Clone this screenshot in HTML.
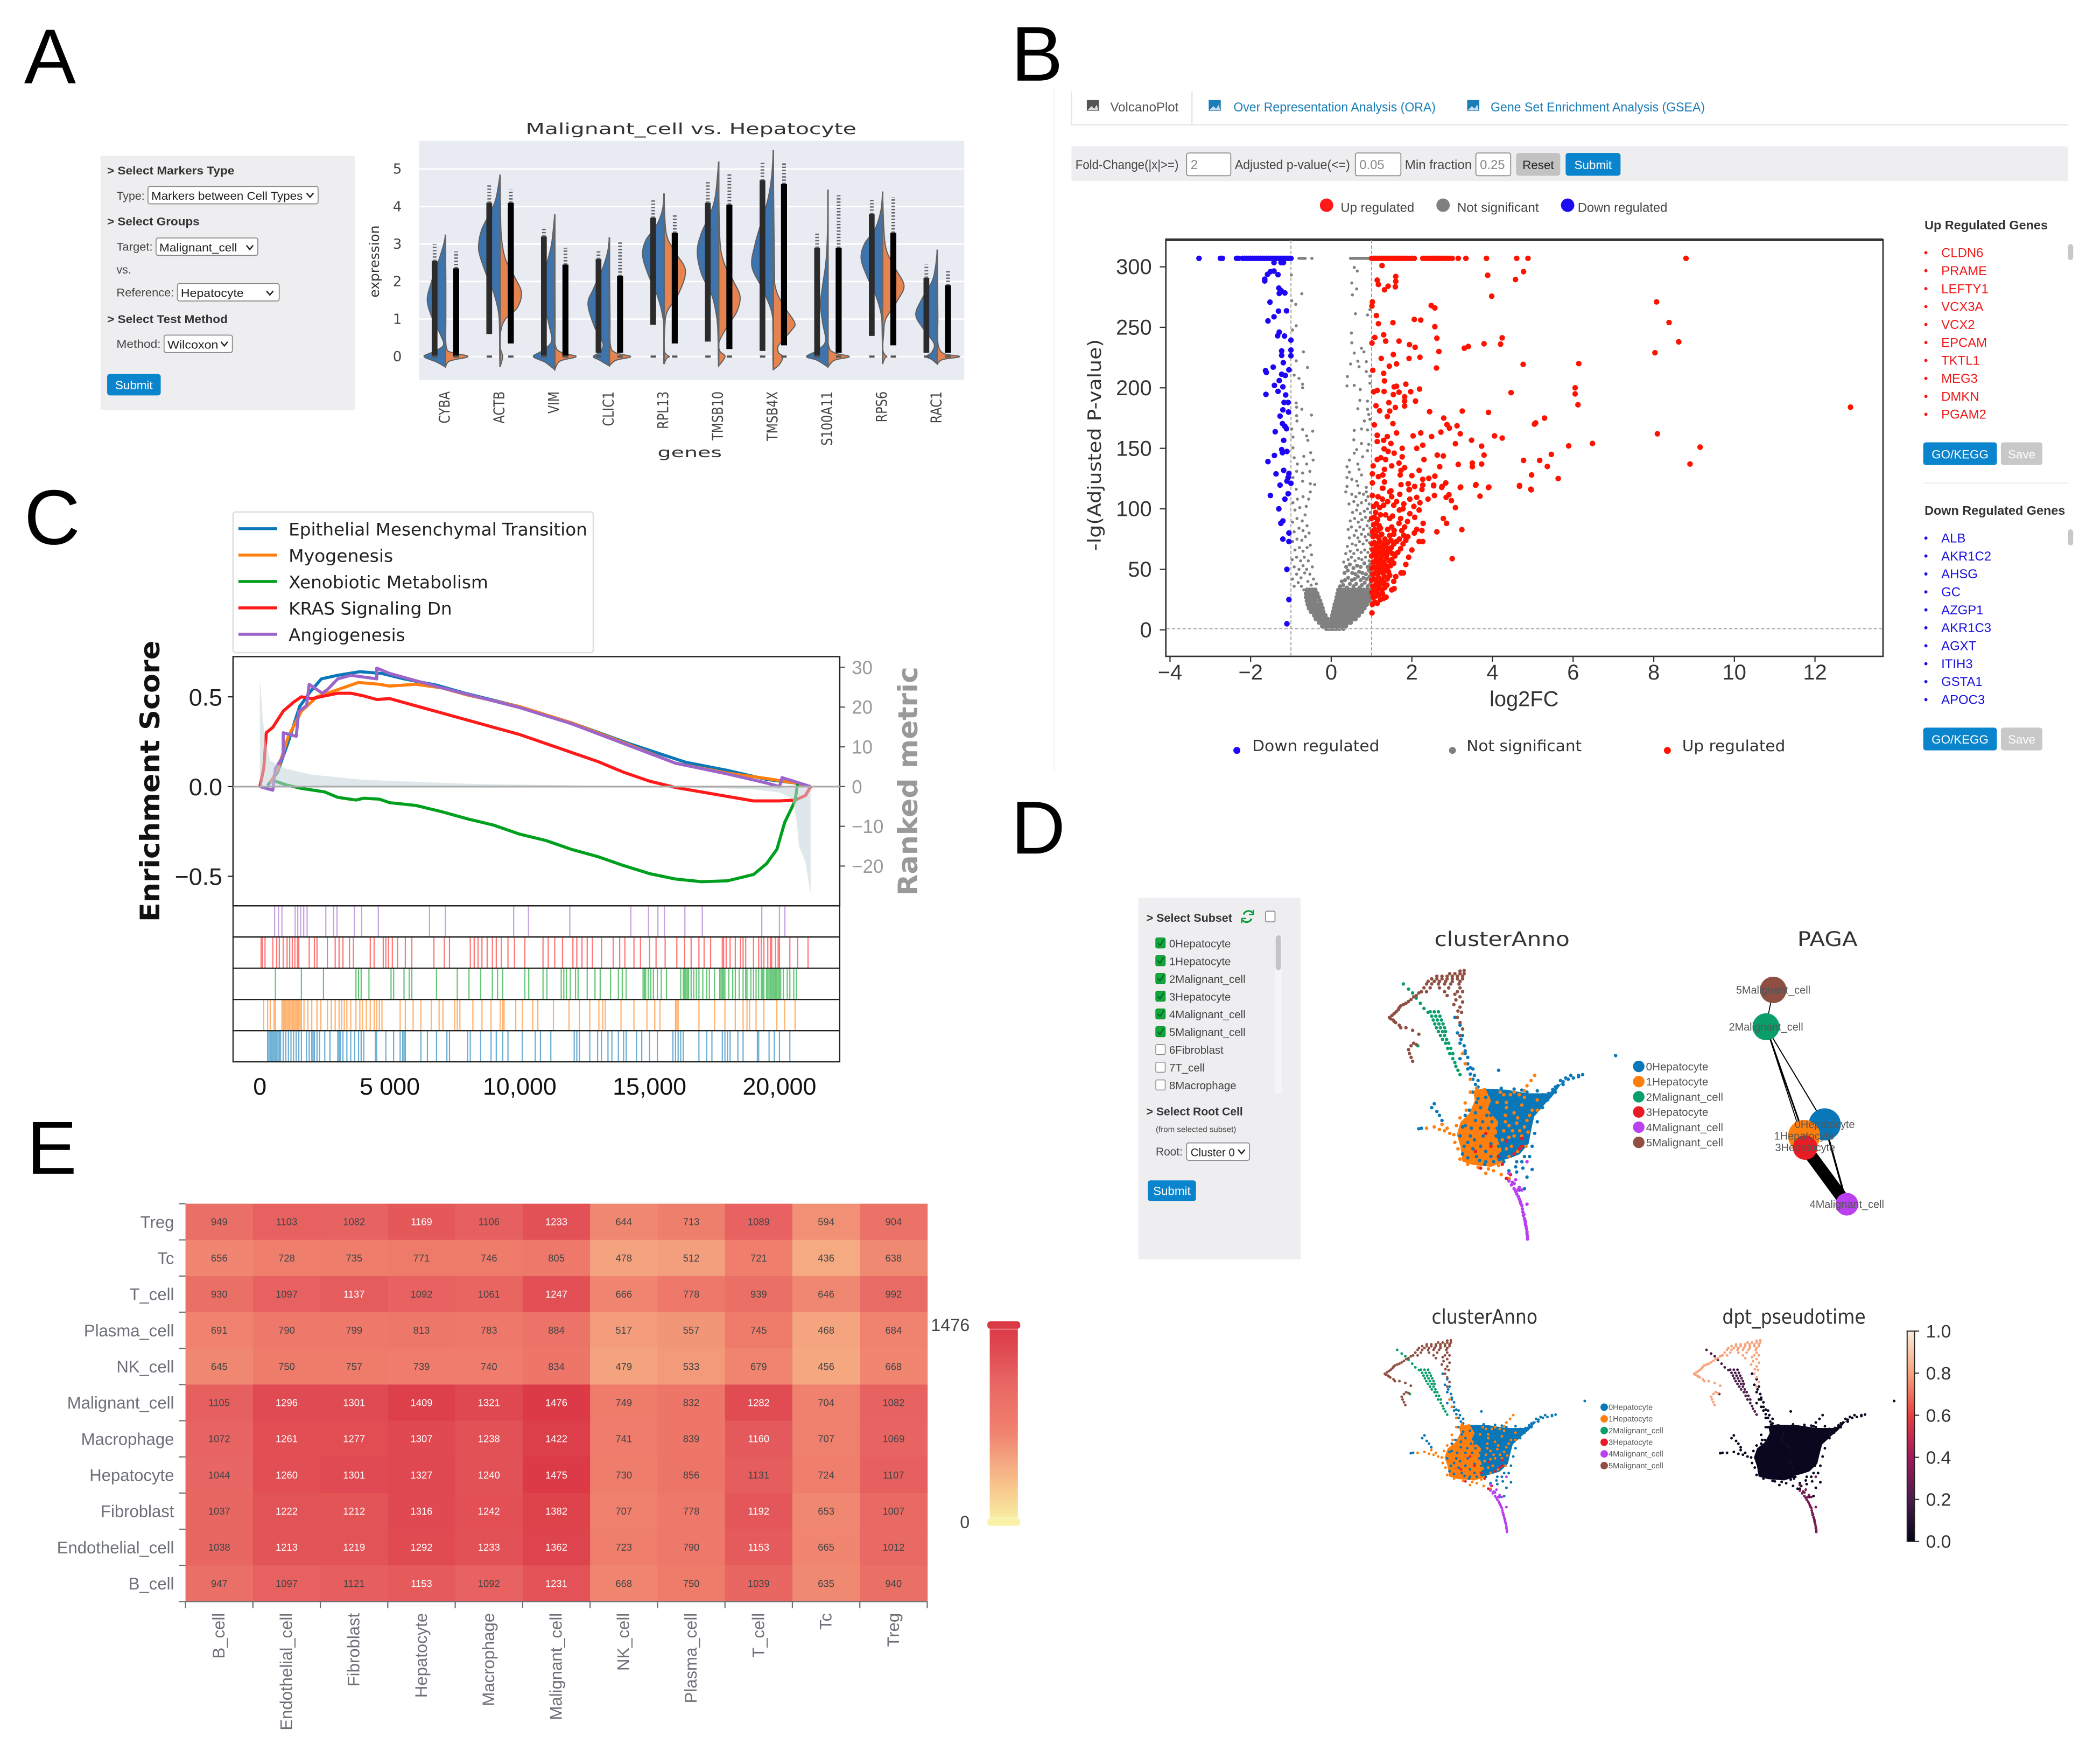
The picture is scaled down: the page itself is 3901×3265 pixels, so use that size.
<!DOCTYPE html>
<html lang="en">
<head>
<meta charset="utf-8">
<title>Single-cell analysis figure panels</title>
<style>
html,body{margin:0;padding:0;background:#fff;width:3901px;height:3265px;overflow:hidden}
svg{display:block}
text{font-family:"Liberation Sans",sans-serif;fill:#333}
.dj{font-family:"DejaVu Sans","Liberation Sans",sans-serif}
.hd{font-size:8.6px;font-weight:bold;fill:#333}
.ui{font-size:8.6px;fill:#444}
.sel{fill:#fff;stroke:#888;stroke-width:.7}
.btn{font-size:9px;fill:#fff}
.tab{font-size:9.6px;fill:#1b7db8}
.chev{fill:none;stroke:#222;stroke-width:1}
</style>
</head>
<body>
<svg id="figure" width="3901" height="3265" viewBox="0 0 1568 1312">
<rect width="1568" height="1312" fill="#fff"/>
<text x="18" y="62" font-size="58" style="fill:#000">A</text>
<text x="755" y="60" font-size="58" style="fill:#000">B</text>
<text x="18" y="406" font-size="58" style="fill:#000">C</text>
<text x="755" y="637" font-size="56" style="fill:#000">D</text>
<text x="20" y="876" font-size="56" style="fill:#000">E</text>

<g>
<rect x="75" y="116" width="190" height="190" fill="#eeeef0"/>
<text class="hd" x="80" y="130" textLength="95" lengthAdjust="spacingAndGlyphs">&gt; Select Markers Type</text>
<text class="ui" x="87" y="149" textLength="21" lengthAdjust="spacingAndGlyphs">Type:</text>
<g><rect class="sel" x="110.5" y="139" width="127" height="13" rx="1.5"/><text class="ui" x="113" y="149" textLength="113" lengthAdjust="spacingAndGlyphs" style="fill:#222">Markers between Cell Types</text><path class="chev" d="M229 144l2.5 3 2.5-3"/></g>
<text class="hd" x="80" y="168" textLength="69" lengthAdjust="spacingAndGlyphs">&gt; Select Groups</text>
<text class="ui" x="87" y="187" textLength="27" lengthAdjust="spacingAndGlyphs">Target:</text>
<g><rect class="sel" x="116.5" y="177.5" width="76" height="13" rx="1.5"/><text class="ui" x="119" y="187.5" textLength="58" lengthAdjust="spacingAndGlyphs" style="fill:#222">Malignant_cell</text><path class="chev" d="M184 183l2.5 3 2.5-3"/></g>
<text class="ui" x="87" y="204">vs.</text>
<text class="ui" x="87" y="221" textLength="43" lengthAdjust="spacingAndGlyphs">Reference:</text>
<g><rect class="sel" x="132.5" y="211.5" width="76" height="13" rx="1.5"/><text class="ui" x="135" y="221.5" textLength="47" lengthAdjust="spacingAndGlyphs" style="fill:#222">Hepatocyte</text><path class="chev" d="M199 217l2.5 3 2.5-3"/></g>
<text class="hd" x="80" y="241" textLength="90" lengthAdjust="spacingAndGlyphs">&gt; Select Test Method</text>
<text class="ui" x="87" y="259.5" textLength="33" lengthAdjust="spacingAndGlyphs">Method:</text>
<g><rect class="sel" x="122.5" y="250" width="51" height="13" rx="1.5"/><text class="ui" x="125" y="260" textLength="38" lengthAdjust="spacingAndGlyphs" style="fill:#222">Wilcoxon</text><path class="chev" d="M165 255l2.5 3 2.5-3"/></g>
<g><rect x="80" y="279" width="40" height="16" rx="2" fill="#0a84cc"/><text class="btn" x="100" y="290.5" text-anchor="middle">Submit</text></g>
</g>

<g id="violin-plot"></g>

<g>
<path d="M787 65V575" stroke="#f4f4f4" stroke-width="1"/>
<path d="M800 68V93H890V68M890 93H1544" fill="none" stroke="#e6e6e6" stroke-width="1"/>
<g><rect x="811.5" y="74.5" width="9" height="8" fill="#555"/><path d="M812 82l3-3 2 2 2-3 1 4z" fill="#ddd"/><text class="tab" x="829" y="83" textLength="51" lengthAdjust="spacingAndGlyphs" style="fill:#555">VolcanoPlot</text></g>
<g><rect x="902.5" y="74.5" width="9" height="8" fill="#1b7db8"/><path d="M903 82l3-3 2 2 2-3 1 4z" fill="#cde"/><text class="tab" x="921" y="83" textLength="151" lengthAdjust="spacingAndGlyphs">Over Representation Analysis (ORA)</text></g>
<g><rect x="1095.5" y="74.5" width="9" height="8" fill="#1b7db8"/><path d="M1096 82l3-3 2 2 2-3 1 4z" fill="#cde"/><text class="tab" x="1113" y="83" textLength="160" lengthAdjust="spacingAndGlyphs">Gene Set Enrichment Analysis (GSEA)</text></g>
<rect x="800" y="109" width="744" height="26" fill="#eeeef0"/>
<text class="ui" x="803" y="126" textLength="77" lengthAdjust="spacingAndGlyphs" style="font-size:9.6px">Fold-Change(|x|&gt;=)</text>
<g><rect class="sel" x="886" y="114" width="33" height="17" rx="1.5"/><text class="ui" x="889" y="126" style="fill:#888;font-size:9.6px">2</text></g>
<text class="ui" x="922" y="126" textLength="86" lengthAdjust="spacingAndGlyphs" style="font-size:9.6px">Adjusted p-value(&lt;=)</text>
<g><rect class="sel" x="1012" y="114" width="34" height="17" rx="1.5"/><text class="ui" x="1015" y="126" style="fill:#888;font-size:9.6px">0.05</text></g>
<text class="ui" x="1049" y="126" textLength="50" lengthAdjust="spacingAndGlyphs" style="font-size:9.6px">Min fraction</text>
<g><rect class="sel" x="1102" y="114" width="26" height="17" rx="1.5"/><text class="ui" x="1105" y="126" style="fill:#888;font-size:9.6px">0.25</text></g>
<g><rect x="1132" y="114" width="33" height="17" rx="2" fill="#c2c2c2"/><text class="btn" x="1148.5" y="126" text-anchor="middle" style="fill:#222">Reset</text></g>
<g><rect x="1169" y="114" width="41" height="17" rx="2" fill="#0a84cc"/><text class="btn" x="1189.5" y="126" text-anchor="middle">Submit</text></g>
<g>
<circle cx="990.5" cy="153" r="5" fill="#ff1a1a"/><text class="ui" x="1001" y="158" textLength="55" lengthAdjust="spacingAndGlyphs" style="font-size:9.6px">Up regulated</text>
<circle cx="1077.5" cy="153" r="5" fill="#808080"/><text class="ui" x="1088" y="158" textLength="61" lengthAdjust="spacingAndGlyphs" style="font-size:9.6px">Not significant</text>
<circle cx="1170.5" cy="153" r="5" fill="#1a0df0"/><text class="ui" x="1178" y="158" textLength="67" lengthAdjust="spacingAndGlyphs" style="font-size:9.6px">Down regulated</text>
</g>
<text class="hd" x="1437" y="171" textLength="92" lengthAdjust="spacingAndGlyphs" style="font-size:9.2px">Up Regulated Genes</text>
<text class="hd" x="1437" y="384" textLength="105" lengthAdjust="spacingAndGlyphs" style="font-size:9.2px">Down Regulated Genes</text>
<g><rect x="1544" y="182" width="4" height="12" rx="2" fill="#c8c8c8"/></g>
<g><rect x="1544" y="395" width="4" height="12" rx="2" fill="#c8c8c8"/></g>
<g><rect x="1436" y="330" width="55" height="17" rx="2" fill="#0a84cc"/><text class="btn" x="1463.5" y="342" text-anchor="middle">GO/KEGG</text></g>
<g><rect x="1494" y="330" width="31" height="17" rx="2" fill="#c8c8c8"/><text class="btn" x="1509.5" y="342" text-anchor="middle">Save</text></g>
<path d="M1436 360.5H1544" stroke="#eee" stroke-width="1"/>
<g><rect x="1436" y="543" width="55" height="17" rx="2" fill="#0a84cc"/><text class="btn" x="1463.5" y="555" text-anchor="middle">GO/KEGG</text></g>
<g><rect x="1494" y="543" width="31" height="17" rx="2" fill="#c8c8c8"/><text class="btn" x="1509.5" y="555" text-anchor="middle">Save</text></g>
</g>
<g id="gene-lists"></g>
<g id="volcano-plot"></g>
<g id="gsea-plot"></g>
<g id="heatmap"></g>

<g>
<rect x="850" y="670" width="121" height="270" fill="#eeeef0"/>
<text class="hd" x="856" y="688" textLength="64" lengthAdjust="spacingAndGlyphs">&gt; Select Subset</text>
<g><path d="M935.5 681.5a4 4 0 0 0-7 1M927.5 686.5a4 4 0 0 0 7-1" fill="none" stroke="#0a9a3a" stroke-width="1.3"/><path d="M935.8 679v3.5h-3.3M927.2 689v-3.5h3.3" fill="none" stroke="#0a9a3a" stroke-width=".9"/></g>
<rect class="sel" x="945" y="680" width="7" height="8" rx="1"/>
<rect x="952" y="698" width="5" height="118" fill="#f5f5f5"/>
<rect x="952.5" y="698" width="4" height="26" rx="2" fill="#c4c4c4"/>
<text class="hd" x="856" y="832.5" textLength="72" lengthAdjust="spacingAndGlyphs">&gt; Select Root Cell</text>
<text class="ui" x="863" y="845" textLength="60" lengthAdjust="spacingAndGlyphs" style="font-size:6px">(from selected subset)</text>
<text class="ui" x="863" y="862.5" textLength="20" lengthAdjust="spacingAndGlyphs">Root:</text>
<g><rect class="sel" x="886" y="853" width="47" height="13" rx="1.5"/><text class="ui" x="889" y="863" textLength="33" lengthAdjust="spacingAndGlyphs" style="fill:#222">Cluster 0</text><path class="chev" d="M924.5 858l2.5 3 2.5-3"/></g>
<g><rect x="857" y="881" width="36" height="15.5" rx="2" fill="#0a84cc"/><text class="btn" x="875" y="892" text-anchor="middle">Submit</text></g>
</g>
<g id="subset-list"></g>
<g id="umap-plots"></g>
<g id="paga-plot"></g>
</svg>

<script>
/* ---------- violin data: [expression, density 0-100] ---------- */
const violinGenes = ['CYBA','ACTB','VIM','CLIC1','RPL13','TMSB10','TMSB4X','S100A11','RPS6','RAC1'];
const violinTicks = [0,1,2,3,4,5];
const targetDensity = [
 [[-.28,0],[-.15,40],[0,100],[.12,60],[.3,10],[.6,25],[1,60],[1.5,85],[2,65],[2.5,35],[3,8],[3.25,0]],
 [[-.28,0],[0,2],[.8,3],[1.2,8],[1.7,30],[2.2,65],[2.7,95],[3,100],[3.4,85],[3.8,50],[4.2,20],[4.85,0]],
 [[-.35,0],[-.15,45],[0,100],[.15,60],[.4,15],[.8,25],[1.3,45],[1.8,55],[2.4,40],[3,15],[3.79,0]],
 [[-.25,0],[-.1,45],[0,75],[.12,45],[.35,30],[.8,70],[1.4,100],[1.8,75],[2.3,35],[2.8,8],[3.18,0]],
 [[-.2,0],[.5,1],[1,4],[1.6,30],[2.2,75],[2.7,100],[3.1,85],[3.5,35],[3.9,8],[4.35,0]],
 [[-.25,0],[0,2],[.5,3],[1,8],[1.6,30],[2.2,80],[2.8,100],[3.3,80],[3.8,40],[4.3,15],[5.2,0]],
 [[-.35,0],[0,2],[.7,2],[1.2,8],[1.8,50],[2.4,100],[3,85],[3.6,55],[4.2,25],[4.8,8],[5.5,0]],
 [[-.28,0],[-.1,50],[0,100],[.15,55],[.4,12],[.9,25],[1.4,35],[1.9,25],[2.5,10],[3.2,3],[4.45,0]],
 [[-.2,0],[0,1],[.6,2],[1.1,6],[1.6,30],[2.1,70],[2.6,100],[3,85],[3.4,35],[3.9,8],[4.4,0]],
 [[-.2,0],[-.08,25],[0,50],[.12,25],[.35,15],[.7,60],[1.1,100],[1.5,75],[2,25],[2.4,8],[2.85,0]]
];
const referenceDensity = [
 [[-.28,0],[-.12,20],[0,105],[.1,35],[.25,4],[1,2],[2,2],[3.25,0]],
 [[-.28,0],[0,12],[.25,1],[.7,4],[1,25],[1.3,80],[1.7,100],[2.1,70],[2.6,25],[3.2,6],[4,2],[4.85,0]],
 [[-.35,0],[-.12,25],[0,100],[.1,35],[.3,3],[1,2],[3.79,0]],
 [[-.25,0],[-.1,30],[0,100],[.1,30],[.3,5],[1,3],[3.18,0]],
 [[-.2,0],[-.05,12],[0,25],[.05,12],[.2,1],[.8,4],[1.2,15],[1.7,70],[2.3,100],[2.8,50],[3.3,10],[4.35,0]],
 [[-.25,0],[0,30],[.15,5],[.4,3],[.8,40],[1.2,85],[1.6,100],[2,70],[2.5,25],[3.2,5],[5.2,0]],
 [[-.35,0],[-.2,30],[0,45],[.1,25],[.3,25],[.7,85],[.9,100],[1.3,55],[1.8,12],[2.5,5],[5.5,0]],
 [[-.28,0],[-.1,30],[0,100],[.1,30],[.3,3],[1,1],[4.45,0]],
 [[-.2,0],[-.05,10],[0,20],[.05,10],[.2,1],[.6,5],[1,15],[1.5,70],[1.9,100],[2.4,55],[3,12],[4.4,0]],
 [[-.2,0],[-.08,25],[0,105],[.08,30],[.3,5],[.7,2],[1.1,3],[2.85,0]]
];
const targetStripLow  = [0,.6,0,.1,.85,.4,.15,0,.55,.1];
const targetStripHigh = [2.55,4.1,3.2,2.6,3.7,4.1,4.7,2.9,3.8,2.1];
const targetStripMax  = [3,4.6,3.45,2.85,4.2,4.7,5.2,3.3,4.2,2.45];
const referenceStripLow  = [0,.35,0,.1,.35,.2,.3,.1,.3,.1];
const referenceStripHigh = [2.35,4.1,2.45,2.15,3.3,4.05,4.6,2.9,3.3,1.9];
const referenceStripMax  = [2.8,4.45,2.9,3.05,3.8,4.9,5.2,4.3,4.25,2.3];

/* ---------- volcano data: [log2FC, -lg(adj P)] ---------- */
const volcanoXTicks = [-4,-2,0,2,4,6,8,10,12];
const volcanoYTicks = [0,50,100,150,200,250,300];
const saturatedDown = [-3.28,-2.75,-2.7,-2.35,-2.3,-2.2,-2.15,-2.1,-2.05,-2,-1.95,-1.9,-1.85,-1.8,-1.75,-1.7,-1.65,-1.6,-1.55,-1.5,-1.45,-1.4,-1.35,-1.3,-1.25,-1.2,-1.15,-1.1,-1.05,-1];
const saturatedFlat = [-.8,-.75,-.7,-.65,-.48,.48,.52,.56,.6,.64,.68,.72,.76,.8,.84,.88,.92,.96];
const saturatedUp = [1,1.05,1.1,1.15,1.2,1.25,1.3,1.35,1.4,1.45,1.5,1.55,1.6,1.65,1.7,1.76,1.82,1.88,1.94,2,2.06,2.27,2.33,2.39,2.45,2.51,2.57,2.63,2.69,2.75,2.81,2.87,2.93,3,3.15,3.34,3.85,4.6,4.88,8.8];
const downPoints = [[-1.42,303.5],[-1.245,303.5],[-1.185,303.5],[-1.42,296.5],[-1.51,296],[-1.58,293.8],[-1.32,293.5],[-1.65,288.3],[-1.65,289.8],[-1.3,282.4],[-1.24,280.2],[-1.15,278.4],[-1.29,278],[-1.52,270.8],[-1.31,263.4],[-1.11,263.6],[-1.42,258.7],[-1.57,255.3],[-1.29,246],[-1.33,243],[-1.16,242.8],[-1,239.4],[-1.23,230.5],[-1.23,226.8],[-1,231.2],[-1,226.5],[-1.19,220.8],[-1.44,217.1],[-1.63,214.2],[-1.61,212.7],[-1.05,214.9],[-1.23,211.2],[-1.14,210.2],[-1.29,206],[-1.41,202],[-1.2,200.8],[-1.32,197.1],[-1.62,194.6],[-1.13,194.1],[-1.17,187.9],[-1.07,187.9],[-1.2,181.8],[-1.06,180],[-1.27,176.6],[-1.21,170.4],[-1.15,168.2],[-1.11,166.2],[-1.39,163.7],[-1.18,156.6],[-1.23,148.9],[-1.21,146.4],[-1.1,147.4],[-1.41,144.1],[-1.57,139],[-1.18,131.8],[-1.37,128.9],[-1.05,129.1],[-1.07,125.9],[-1.1,122.9],[-1,121.1],[-1.27,119.6],[-1.51,111],[-1.07,112.5],[-1.3,100],[-1.15,108],[-1.2,90],[-1.25,88],[-1.05,80],[-1.2,75],[-1.05,73],[-1.1,50],[-1.05,25],[-1.1,5]];
const upPoints = [[1.26,301],[4.77,296],[3.88,293],[4.57,289.5],[1.6,292],[1.14,289],[1.17,285.4],[1.32,281],[1.41,284],[1.59,283.5],[1.6,288],[3.98,275.7],[1.02,271],[1.01,267.6],[2.48,268],[2.57,266],[1.12,259.7],[1.17,253],[1.53,253.8],[2.06,256.5],[2.22,256],[2.57,250.5],[1.3,243.8],[1.08,241.6],[1.01,237],[1.35,238.6],[1.68,238.6],[1.94,235.7],[2.08,233.5],[2.62,241],[2.67,230],[3.3,232.7],[3.4,234.2],[3.79,236.4],[4.2,236.1],[4.24,241.3],[1.54,227.5],[1.24,224.3],[1.93,224.3],[2.2,225.3],[4.76,219.4],[2.61,216.4],[1.62,219.8],[1.44,217.9],[1.03,214.5],[1.3,212],[1.32,205.7],[1.85,203],[1.56,200.8],[1.62,201.3],[2.19,199],[4.46,196],[1.05,196.7],[1.14,197.8],[1.31,197],[1.68,196.4],[1.97,196.8],[1.54,194.4],[1.82,192.6],[1.82,189],[1.82,185],[2.09,189],[1.43,187.8],[1.11,185.2],[1.59,183.8],[1.2,181],[1.45,180.8],[2.44,180.3],[3.25,180.8],[3.9,179.7],[1.39,176.3],[2.79,175],[1.07,169.4],[1.53,170.4],[2.87,169.6],[2.93,166.7],[3.12,168.6],[3.2,162],[2.22,162.7],[2.03,160.3],[2.49,159.7],[2.72,163.4],[1.62,162.7],[1.14,160.8],[1.39,159.7],[1.3,156.6],[1.14,155.6],[1.48,154],[4.05,160.3],[4.24,158.5],[3.48,156.7],[3.08,153.8],[3.73,151.8],[2.27,152.6],[2.12,150],[1.76,150],[1.31,149.6],[1.41,147.4],[1.56,146],[1.76,143],[1.23,142.2],[1.35,140.7],[1.14,140.7],[2.3,140.7],[2.63,144.4],[2.78,143.7],[3.79,144.4],[4.77,140],[3.15,136.7],[3.5,137.8],[3.5,134.8],[3.73,137],[2.69,134.8],[1.68,137.8],[1.04,135.5],[1.5,135.5],[1.82,134],[1.32,132.6],[1.73,131.8],[1.02,128.9],[2.18,131.8],[1.71,128],[1.28,128],[1.17,126.6],[2,127.4],[2.27,124.4],[2.42,125.2],[2.57,127],[1.32,122.2],[1.02,121.4],[1.73,120],[1.91,120.7],[2.84,121.4],[2.54,119.6],[2.75,118.5],[2.07,118.5],[2.27,119.6],[3.21,118],[3.59,120],[3.91,118],[4.67,119.2],[4.95,116.2],[4.97,128],[5.04,170],[1.28,117],[1.48,114.8],[1.93,115.8],
 [8.07,271],[8.38,254],[8.62,238],[8.03,229],[6.14,220],[6.05,200],[6.05,195],[6.12,186],[12.88,184],[5.29,175],[5.07,171],[8.09,162],[6.48,154],[5.89,152],[9.15,151],[5.46,145],[5.17,140],[8.9,137],[5.36,135],[5.63,125],
 [1.01,14],[3,58.8],[3.24,82.8],[3.08,101],[4.96,115.7],[3.2,117.6],[3.9,117.6],[4.67,118.7],[3.69,110.5],[3.58,119.5],
 [1.02,21],[1.08,23],[1.14,22],[1.22,25],[1.3,26],[1.04,27],[1.11,28],[1.18,29],[1.27,30],[1.36,27],
 [1.01,31],[1.07,33],[1.13,32],[1.2,34],[1.26,33],[1.33,35],[1.03,36],[1.1,37],[1.16,36],[1.23,38],[1.3,39],[1.38,37],[1.5,33],[1.56,34],
 [1,41],[1.06,42],[1.12,40],[1.18,43],[1.25,41],[1.32,44],[1.39,42],[1.45,45],[1.03,46],[1.09,47],[1.15,46],[1.21,48],[1.28,47],[1.35,49],[1.42,48],[1.6,44],[1.55,40],[1.73,47],[1.79,47],[1.85,54],
 [1.01,51],[1.07,52],[1.13,50],[1.2,53],[1.26,51],[1.33,54],[1.4,52],[1.47,53],[1.04,56],[1.1,57],[1.17,55],[1.23,58],[1.3,56],[1.37,59],[1.44,57],[1.5,58],[1.55,55],[1.92,60],
 [1,61],[1.06,62],[1.12,60],[1.19,63],[1.25,61],[1.32,64],[1.38,62],[1.45,65],[1.52,63],[1.58,61],[1.03,66],[1.09,67],[1.15,65],[1.22,68],[1.28,66],[1.35,69],[1.42,67],[1.49,68],[1.65,64],[1.72,67],[2,66],
 [1.01,71],[1.07,72],[1.13,70],[1.2,73],[1.27,71],[1.33,75],[1.4,72],[1.48,74],[1.55,71],[1.62,73],[1.69,75],[1.78,71],[1.85,74],[1.04,77],[1.11,78],[1.18,76],[1.25,79],[1.45,78],[1.55,79],[1.8,78],[2.18,73],[2.27,73],[1.9,77],
 [1.02,81],[1.08,83],[1.15,82],[1.22,84],[1.05,87],[1.12,88],[1.19,86],[1.4,83],[1.5,85],[1.56,82],[1.75,82],[1.82,85],[1.68,88],[1.89,89.5],[2.06,80],[2.12,83],[2.25,82],[2.28,88],[2.62,81],
 [1,92],[1.07,93],[1.15,91],[1.22,95],[1.1,97],[1.45,92],[1.52,94],[1.35,95],[1.72,92],[2.07,93],[1.95,96],[2.18,99],[1.69,99],[1.78,100],[2.78,92],[2.86,88],
 [1.05,102],[1.12,104],[1.2,101],[1.3,103],[1.4,106],[1.55,103],[1.62,106],[1.8,104],[2.05,102],[1.16,110],[1.27,108],[1.5,110],[1.95,108],[2.12,109.5],[2.4,108],[2.56,111],[2.85,109.5],[2.92,111.7],[2.98,106.8],[1.02,111],[1.7,112],[2.2,105],[1.45,114],[1.94,116],[2.25,116],[2.54,119],[2.74,117.7],[1.27,117]];
const flatRowLevels = [1,3,6,9,12,15,18,21,24,27,30,33];
const flatRowFoldChanges = [
 [-.12,-.06,0,.06,.12,.2,.3],
 [-.22,-.15,-.08,0,.08,.15,.25,.3,.36],
 [-.3,-.23,-.16,-.08,0,.07,.14,.21,.28,.35,.42,.48],
 [-.38,-.31,-.24,-.17,-.1,0,.07,.14,.21,.28,.35,.42,.48,.55,.6],
 [-.42,-.35,-.28,-.21,-.15,.03,.1,.17,.24,.31,.38,.45,.55,.62,.68],
 [-.5,-.43,-.36,-.29,-.2,.05,.12,.19,.26,.33,.4,.47,.54,.62,.7,.76],
 [-.55,-.48,-.41,-.34,-.27,-.22,.07,.14,.21,.28,.35,.42,.49,.56,.63,.68,.75,.82],
 [-.58,-.51,-.44,-.37,-.3,-.25,.09,.16,.23,.3,.37,.44,.51,.58,.65,.74,.8,.88],
 [-.6,-.53,-.46,-.39,-.28,.12,.19,.26,.33,.4,.47,.54,.61,.68,.75,.8,.87,.94],
 [-.62,-.55,-.48,-.41,-.32,.14,.21,.28,.35,.42,.49,.56,.63,.7,.77,.85,.92,.98],
 [-.62,-.55,-.48,-.41,-.35,.16,.23,.3,.37,.44,.51,.58,.65,.72,.79,.86,.92,.99],
 [-.6,-.54,-.47,-.4,.18,.25,.32,.39,.46,.53,.6,.67,.74,.81,.88,.95]
];
const flatDense = [[.22,36],[.3,37],[.39,35],[.46,38],[.55,36],[.62,38],[.7,35],[.76,37],[.83,39],[.9,36],[.97,38],[.26,40],[.34,41],[.42,43],[.51,41],[.58,42],[.66,44],[.73,41],[.8,43],[.88,42],[.95,44],[.33,47],[.41,49],[.52,47],[.6,46],[.69,48],[.77,47],[.86,46],[.93,49],[.98,47],[.37,52],[.46,54],[.55,51],[.64,53],[.73,52],[.82,55],[.9,52],[.97,54]];
const flatPoints = [[.57,299.5],[.645,296.5],[-.99,293.2],[.51,286.6],[.63,281.7],[.525,276.8],[-.73,277.7],[-.98,272],[-.88,269],[.96,264.6],[.6,261.2],[.9,260.2],[-.87,251.3],[-.96,247.8],[.5,245.3],[.51,237.2],[.75,232.7],[.81,229.7],[.57,228.7],[-.69,229.7],[-.87,222.3],[.66,222],[.87,221.6],[.48,219.7],[.69,217.4],[-.59,216.8],[.87,213.4],[-1,214.5],[-.92,210.5],[-.8,207.8],[.96,209.7],[.4,209.3],[.39,201.6],[.57,202],[.72,198.6],[.96,203.8],[-.71,203],[-.71,200],[.71,189.7],[.9,189],[-.87,187.5],[-.86,184],[-.73,182.3],[.66,182.7],[.9,182.3],[-.86,177],[-.49,177.5],[.93,178],[-.85,172.6],[.96,174],[.82,172.6],[-.71,165.6],[-.46,164.2],[-.98,166],[.57,164.8],[.75,166],[.9,165.2],[-.95,159.3],[-.61,160.3],[-.58,156.6],[.56,157],[.75,154],[.93,153.3],[-.95,150.4],[.63,148.9],[.9,148.1],[-.51,146.4],[.57,146],[-.92,142.2],[-.68,143.4],[-.45,140.3],[.78,143],[.45,140.3],[-.84,137],[-.61,137],[.39,134.8],[.66,137],[-.86,131],[-.71,129.6],[-.53,131],[.45,130.3],[.69,132.6],[.75,128],[.39,125.9],[.51,124.4],[.63,122.9],[-.71,122.9],[-.95,125.9],[-.52,120.7],[-.41,120],[.39,118.5],[.66,119.2],[.87,117.7],[-.87,116.2],[-.52,114],[.36,114],[.87,114],
 [.31,56],[.42,58],[.5,60],[.59,57],[.68,59],[.76,58],[.85,60],[.94,57],[.99,60],[.36,63],[.47,65],[.56,63],[.65,66],[.74,64],[.83,66],[.91,64],[.97,67],[.4,69],[.52,71],[.61,70],[.7,73],[.79,71],[.88,74],[.95,72],[.45,76],[.57,78],[.66,76],[.75,79],[.84,77],[.92,79],[.98,78],[.42,83],[.5,85],[.62,82],[.71,85],[.8,83],[.89,86],[.96,84],[.47,90],[.58,92],[.67,89],[.76,91],[.85,93],[.93,90],[.99,92],[.53,97],[.63,99],[.72,96],[.82,98],[.9,100],[.97,97],[.44,104],[.56,106],[.66,103],[.75,105],[.86,107],[.94,104],[.51,112],[.61,110],[.7,113],[.8,112],[.91,110],
 [-.92,36],[-.82,39],[-.74,36],[-.68,33],[-.96,42],[-.86,46],[-.75,43],[-.66,47],[-.58,40],[-.5,37],[-.44,42],[-.37,38],[-.92,52],[-.8,50],[-.7,53],[-.61,50],[-.53,46],[-.47,52],[-.97,58],[-.86,60],[-.76,57],[-.67,60],[-.57,57],[-.49,62],[-.9,66],[-.79,68],[-.7,65],[-.6,68],[-.52,70],[-.96,73],[-.85,75],[-.73,74],[-.64,77],[-.55,80],[-.92,81],[-.8,84],[-.7,82],[-.6,86],[-.96,89],[-.85,92],[-.72,90],[-.65,95],[-.9,99],[-.78,101],[-.62,102],[-.95,105],[-.84,108],[-.7,110],[-.56,108]];

/* ---------- GSEA data ---------- */
const gseaRankTicks = [0,5000,10000,15000,20000];
const gseaRankLabels = ['0','5 000','10,000','15,000','20,000'];
const esTicks = [-.5,0,.5];
const esTickLabels = ['\u22120.5','0.0','0.5'];
const metricTicks = [-20,-10,0,10,20,30];
const metricTickLabels = ['\u221220','\u221210','0','10','20','30'];
const setNames = ['Epithelial Mesenchymal Transition','Myogenesis','Xenobiotic Metabolism','KRAS Signaling Dn','Angiogenesis'];
const esEmt = [[300,.006],[680,.08],[1100,.25],[1530,.445],[1950,.53],[2370,.6],[3000,.62],[3860,.64],[4700,.63],[5550,.6],[6800,.565],[7900,.52],[10000,.445],[12100,.35],[14200,.24],[16400,.135],[18000,.09],[19500,.04],[20600,.02],[21200,0]];
const esMyo = [[400,.02],[700,.1],[1100,.28],[1600,.42],[2200,.5],[3000,.54],[3800,.58],[4600,.57],[5000,.56],[6000,.57],[7000,.55],[8000,.51],[10000,.445],[12000,.355],[14000,.245],[16000,.13],[18000,.075],[19500,.045],[20600,.02],[21200,0]];
const esXeno = [[600,.03],[1000,.01],[1600,-.01],[2500,-.03],[3000,-.06],[3700,-.075],[4000,-.065],[4600,-.07],[5000,-.09],[6000,-.105],[7000,-.14],[8000,-.18],[9000,-.215],[10000,-.265],[11000,-.3],[12000,-.35],[13000,-.39],[14000,-.44],[15000,-.485],[16000,-.515],[17000,-.53],[18000,-.525],[19000,-.49],[19500,-.43],[19900,-.35],[20200,-.2],[20600,-.08],[20700,.02]];
const esKras = [[0,0],[150,.1],[250,.3],[500,.33],[900,.42],[1300,.47],[1600,.5],[2000,.49],[2500,.505],[3000,.52],[3500,.52],[4000,.505],[4500,.485],[5000,.49],[6000,.45],[7000,.41],[8000,.37],[9000,.33],[10000,.29],[11000,.24],[12000,.19],[13000,.14],[14000,.08],[15000,.03],[16000,-.005],[17000,-.03],[18000,-.055],[19000,-.08],[20000,-.08],[20600,-.075],[21000,-.05],[21200,0]];
const esAngio = [[0,0],[500,-.02],[600,.1],[900,.17],[900,.3],[1400,.28],[1500,.42],[1800,.45],[1900,.57],[2400,.52],[2600,.54],[3000,.6],[3500,.62],[4500,.6],[4500,.66],[5000,.63],[7000,.55],[10000,.44],[12000,.35],[14000,.24],[16000,.13],[18000,.07],[19500,.02],[20000,0],[20100,.05],[21200,0]];
const rankMetric = [[0,27],[50,23],[100,18],[200,12],[400,6.5],[1000,4.5],[2000,3],[4000,1.7],[8000,.7],[12000,.3],[15000,0],[17000,-.3],[19000,-.7],[20000,-1.5],[20500,-3],[20650,-8],[20750,-15],[21000,-19],[21200,-27],[21200,0],[0,0]];
const hitsAngio = [570,720,850,1360,1460,1570,1690,1820,2540,2840,2970,3640,3920,4560,6530,7140,9770,10340,11930,14280,14960,15320,15570,16360,17030,19320,20000,20210];
const hitsKras = [50,100,200,500,650,750,900,1050,1150,1250,1350,1450,1500,1900,2100,2200,2600,2900,3050,3200,3450,3600,4250,4400,4750,4850,4950,5100,5300,5600,5850,6700,7100,7300,8100,8250,8400,8550,8750,8950,9100,9300,9550,9800,10200,10900,11100,11350,11650,12050,12200,12400,12600,12800,13150,13600,13850,14050,14400,14650,15000,15250,15600,16050,16350,16600,16900,17100,17350,17800,17850,17950,18100,18300,18500,18600,18700,19000,19200,19300,19400,19550,19650,19700,19850,19950,20000,20400,20700,21100];
const hitsXeno = [600,1600,2450,3700,3800,3900,4200,5050,5150,5550,5750,5850,6800,7600,8050,8500,8950,9150,9350,10200,10350,10900,11050,11600,11700,11800,11950,12150,12250,12600,12900,13100,13500,13800,13950,14100,14750,14800,14850,14950,15050,15150,15300,15450,15650,16200,16300,16350,16400,16450,16500,16600,16700,16800,16900,17050,17200,17300,17500,17700,17750,17800,17850,17900,18050,18200,18300,18450,18600,18700,18750,18900,19000,19100,19200,19300,19350,19400,19500,19550,19600,19650,19700,19750,19800,19850,19900,19950,20000,20050,20150,20300,20400,20550,20650];
const hitsMyo = [150,300,400,550,600,850,900,950,1000,1050,1100,1150,1200,1250,1300,1350,1400,1450,1500,1550,1600,1700,1850,2000,2200,2350,2600,2750,2900,3050,3150,3250,3350,3500,3700,3850,3950,4100,4250,4400,4500,4600,4700,5400,5600,5900,6200,6600,6900,7050,7500,7600,7700,8200,8550,8900,9250,9350,9400,9850,10100,10500,10700,11300,11900,12300,12700,13050,13200,13300,13900,14400,14900,15200,15400,16000,16050,16100,16900,17500,17900,18300,18600,18750,18850,19100,19400,19900,20200,20600];
const hitsEmt = [300,350,400,450,500,550,600,650,700,750,800,900,1000,1100,1200,1300,1400,1500,1600,1800,1900,2000,2050,2100,2200,2300,2500,2700,3000,3050,3100,3200,3350,3500,3650,3800,3900,4000,4450,4500,4850,5150,5400,5500,5550,5600,6200,6450,6800,7200,7300,8000,8100,8500,8900,9100,9350,9550,10100,10600,10800,11200,12100,12200,12300,12700,13000,13150,13400,13550,13800,14000,14100,14500,14700,15000,15300,15900,16000,16100,16200,16300,16900,17200,17400,17800,17900,18000,18100,18400,18600,19150,19200,19600,19800,20000,20400];

/* ---------- heatmap data ---------- */
const heatRows = ['Treg','Tc','T_cell','Plasma_cell','NK_cell','Malignant_cell','Macrophage','Hepatocyte','Fibroblast','Endothelial_cell','B_cell'];
const heatCols = ['B_cell','Endothelial_cell','Fibroblast','Hepatocyte','Macrophage','Malignant_cell','NK_cell','Plasma_cell','T_cell','Tc','Treg'];
const heatValues = [
 [949,1103,1082,1169,1106,1233,644,713,1089,594,904],
 [656,728,735,771,746,805,478,512,721,436,638],
 [930,1097,1137,1092,1061,1247,666,778,939,646,992],
 [691,790,799,813,783,884,517,557,745,468,684],
 [645,750,757,739,740,834,479,533,679,456,668],
 [1105,1296,1301,1409,1321,1476,749,832,1282,704,1082],
 [1072,1261,1277,1307,1238,1422,741,839,1160,707,1069],
 [1044,1260,1301,1327,1240,1475,730,856,1131,724,1107],
 [1037,1222,1212,1316,1242,1382,707,778,1192,653,1007],
 [1038,1213,1219,1292,1233,1362,723,790,1153,665,1012],
 [947,1097,1121,1153,1092,1231,668,750,1039,635,940]
];

/* ---------- embedding data (umap1, umap2) per cluster ---------- */
const clusterNames = ['0Hepatocyte','1Hepatocyte','2Malignant_cell','3Hepatocyte','4Malignant_cell','5Malignant_cell'];
const clusterPseudotime = [.02,.02,.2,.02,.3,.8];
const cluster5Points = [[648,318],[640,320],[640,330],[648,330],[620,330],[630,330],[595,340],[605,340],[615,340],[625,340],[635,340],[645,340],[585,350],[595,350],[605,350],[615,350],[625,350],[635,350],[645,350],[578,360],[590,360],[600,360],[612,360],[625,360],[640,360],[575,370],[585,370],[598,370],[610,370],[622,370],[638,370],[570,385],[582,385],[600,385],[618,385],[640,385],[565,400],[575,400],[610,400],[635,400],[645,400],[640,420],[630,410],[615,415],[645,440],[632,432],[640,460],[643,480],[635,500],[640,520],[645,545],[640,570],[628,450],[636,475],
 [560,405],[555,415],[550,420],[545,430],[540,438],[535,445],[530,450],[525,455],[522,462],[520,470],[516,478],[512,485],[508,492],[503,500],[505,505],[510,510],[512,515],[515,520],[522,530],[535,540],[548,550],[525,540],[560,565],[550,600],[545,610],[540,625],[542,640],[545,655],[548,670],[555,605]];
const cluster2Points = [[530,370],[540,390],[548,405],[555,425],[563,445],[570,465],[578,480],[582,478],[590,478],[598,478],[585,495],[593,495],[601,495],[588,510],[596,510],[604,510],[591,525],[599,525],[607,525],[594,540],[602,540],[610,540],[598,555],[606,555],[612,555],[602,570],[610,570],[606,585],[614,585],[612,600],[618,600],[616,620],[622,620],[620,640],[626,640],[626,660],[630,675],[632,690],[636,705],[640,722],[558,610],[565,400]];
const cluster4Points = [[735,1135],[740,1150],[745,1165],[750,1185],[755,1205],[760,1230],[762,1255],[765,1280],[768,1310],[770,1340],[771,1360],[745,1145],[752,1170],[757,1215],[764,1265],[767,1295],[748,1130],[755,1160],[770,1225],[742,1140],[748,1175],[753,1195],[758,1222],[761,1243],[763,1268],[766,1288],[767,1302],[769,1320],[770,1332],[771,1350],[760,1170],[735,1105],[770,1060]];
const cluster3Points = [[730,1125],[722,1070],[745,1030],[760,1000],[680,1085],[738,1110],[700,1000],[730,980],[755,1010],[690,950],[715,1040],[670,1020],[760,970]];
const cluster0Points = [[878,722],[870,730],[855,725],[850,740],[840,750],[830,765],[820,780],[812,795],[805,810],[800,830],[795,850],[785,870],[780,885],[825,770],[835,745],[845,735],[640,600],[650,640],[655,680],[660,720],[650,630],[645,570],[635,560],[640,530],[630,500],[655,700],[665,740],[670,760],[648,610],[642,585],[655,655],[660,695],[668,725],[675,770],[942,648],[715,705],[585,850],[595,865],[600,880],[590,835],[605,900],[560,932],[565,930],[735,1130],[745,1145],[755,1170],[765,1165],[750,1100],[770,1120],[780,1090],[760,1060],[775,1040],[748,1080],[735,1095],[762,1085],[690,810],[680,850],[700,880],[670,900],[695,930],[710,960],[680,1000],[700,1040],[660,960],[720,900],[715,1000],[725,1060],[650,920],[665,1010],[685,960],[690,1060],[672,830],[705,820],[655,985],[645,1030],[720,850],[640,660],[665,700],[675,745],
 [650,880],[662,930],[648,1000],[672,1040],[688,1070],[705,1060],[680,930],[692,880],[706,850],[675,815],[658,860],[640,960],[655,1045],[668,975],[700,990],[690,1020],[712,930],[684,905],[670,870],[698,800],[664,790],[645,925],[678,1055],[702,905],[800,850],[790,905],[785,950],[780,1000],[765,1040],[750,1060],[810,820],[800,800],[770,790],[745,778],[720,775],[760,782],[790,785],[825,790],[840,760],[860,735],[870,725]];
const cluster1Points = [[785,725],[778,745],[770,765],[765,785],[575,930],[590,925],[600,935],[610,940],[620,950],[605,915],[615,930],[690,1105],[705,1095],[720,1110],[735,1125],[730,830],[745,870],[760,840],[770,900],[735,920],[760,960],[740,1000],[735,1040],[725,800],[780,860],[755,800],[745,960],[725,940],[750,910],[728,880],[765,925],[738,800],[660,740],[650,680],[645,640],
 [745,790],[765,810],[790,820],[730,850],[752,890],[775,880],[742,940],[768,1000],[752,1020],[730,1010],[722,975],[735,965],[756,940],[772,945],[745,1030],[728,905],[790,860],[712,830],[718,790],[628,955],[633,920],[640,890],[652,860],[660,790],[672,775],[636,1010],[640,1050],[655,1070],[675,1082],[695,1088],[715,1075],[650,832],[630,985]];
const orangeCoreOutline = [[665.4,783.9],[689.7,773.4],[700.2,822.2],[693.2,857],[714.1,905.8],[710.6,961.5],[721,1017.3],[710.6,1045.1],[728,1059],[700.2,1080],[665.4,1073],[644.5,1059],[641,1003.3],[634,954.5],[641,905.8],[658.4,871],[668.8,822.2]];
const blueCoreOutline = [[689.7,777],[731.5,780.4],[769.8,794.3],[811.6,794.3],[825.6,773.4],[853.4,728.1],[836,759.5],[818.6,808.2],[804.7,836.1],[783.8,884.9],[778.5,933.6],[773.3,989.4],[755.9,1031.2],[738.5,1045.1],[714.1,1059],[710.6,1038.2],[721,1017.3],[710.6,961.5],[714.1,905.8],[693.2,857],[700.2,822.2]];

/* ---------- PAGA data ---------- */
const pagaNames = ['0Hepatocyte','1Hepatocyte','2Malignant_cell','3Hepatocyte','4Malignant_cell','5Malignant_cell'];
const pagaPos1 = [1348,1308,1234,1310,1391,1248];
const pagaPos2 = [915,960,536,1005,1225,393];
const pagaSize = [100,100,70,58,50,68];
const pagaEdgeFrom = [5,2,2,2,3,1,0,0];
const pagaEdgeTo = [2,0,1,3,4,4,4,3];
const pagaEdgeWeight = [.7,.8,1.2,.7,9,1.6,1.4,.7];

/* ---------- gene lists ---------- */
const upGenes = ['CLDN6','PRAME','LEFTY1','VCX3A','VCX2','EPCAM','TKTL1','MEG3','DMKN','PGAM2'];
const downGenes = ['ALB','AKR1C2','AHSG','GC','AZGP1','AKR1C3','AGXT','ITIH3','GSTA1','APOC3'];
const subsetNames = ['0Hepatocyte','1Hepatocyte','2Malignant_cell','3Hepatocyte','4Malignant_cell','5Malignant_cell','6Fibroblast','7T_cell','8Macrophage'];
const subsetChecked = [true,true,true,true,true,true,false,false,false];

/* ---------- helpers ---------- */
const NS = 'http://www.w3.org/2000/svg';
function make(tag, parent, attrs) {
  const node = document.createElementNS(NS, tag);
  for (const k in attrs) node.setAttribute(k, attrs[k]);
  parent.appendChild(node);
  return node;
}
function label(parent, x, y, str, attrs) {
  const node = make('text', parent, Object.assign({x: x, y: y}, attrs || {}));
  node.textContent = str;
  return node;
}
function linear(d0, d1, r0, r1) { return v => r0 + (v - d0) * (r1 - r0) / (d1 - d0); }
function smoothPath(p) {
  let d = 'M' + p[0][0].toFixed(2) + ' ' + p[0][1].toFixed(2);
  for (let i = 0; i < p.length - 1; i++) {
    const a = p[Math.max(i - 1, 0)], b = p[i], c = p[i + 1], e = p[Math.min(i + 2, p.length - 1)];
    d += 'C' + (b[0] + (c[0] - a[0]) / 6).toFixed(2) + ' ' + (b[1] + (c[1] - a[1]) / 6).toFixed(2) + ' ' +
         (c[0] - (e[0] - b[0]) / 6).toFixed(2) + ' ' + (c[1] - (e[1] - b[1]) / 6).toFixed(2) + ' ' +
         c[0].toFixed(2) + ' ' + c[1].toFixed(2);
  }
  return d;
}
function linePath(p) { return p.map((q, i) => (i ? 'L' : 'M') + q[0].toFixed(2) + ' ' + q[1].toFixed(2)).join(''); }
function mixColor(stops, t) {
  for (let i = 0; i < stops.length - 1; i++) {
    const a = stops[i], b = stops[i + 1];
    if (t <= b[0]) {
      const f = (t - a[0]) / (b[0] - a[0]);
      const c = [1, 2, 3].map(k => Math.round(a[k] + (b[k] - a[k]) * Math.max(0, f)));
      return 'rgb(' + c.join(',') + ')';
    }
  }
  const l = stops[stops.length - 1];
  return 'rgb(' + l[1] + ',' + l[2] + ',' + l[3] + ')';
}

/* ---------- panel A: violin ---------- */
(function () {
  const g = document.getElementById('violin-plot');
  const x = linear(0, 1, 332.6, 373.4);
  const y = linear(0, 5, 266, 126);
  const w = linear(0, 100, 0, 16);
  const bg = make('rect', g, {x: 313, y: 105, width: 407, height: 178.5, fill: '#e9ebf3'});
  
  
  violinTicks.forEach(t => {
    const grid = make('line', g, {x1: 313, x2: 720, y1: y(t), y2: y(t), stroke: '#fff', 'stroke-width': 1.1});
    
    
    const tick = label(g, 300, y(t) + 3.5, String(t), {class: 'dj', 'font-size': 10.5, 'text-anchor': 'end', style: 'fill:#444'});
    
    
  });
  violinGenes.forEach((name, i) => {
    const cx = x(i);
    const left = targetDensity[i].map(p => [cx - w(p[1]), y(p[0])]);
    const right = referenceDensity[i].map(p => [cx + w(p[1]), y(p[0])]);
    const lv = make('path', g, {d: smoothPath(left) + 'Z', fill: '#3d74ae', stroke: '#5e5e5e', 'stroke-width': .8});
    
    
    const rv = make('path', g, {d: smoothPath(right) + 'Z', fill: '#e58450', stroke: '#5e5e5e', 'stroke-width': .8});
    
    
    const axisLine = make('line', g, {x1: cx, x2: cx, y1: y(targetDensity[i][0][0]), y2: y(targetDensity[i][targetDensity[i].length - 1][0]), stroke: '#666', 'stroke-width': 1.2});
    
    
    const ts = make('line', g, {x1: cx - 8.1, x2: cx - 8.1, y1: y(targetStripLow[i]), y2: y(targetStripHigh[i]), stroke: '#2b2b2b', 'stroke-width': 4.3});
    
    
    const tm = make('line', g, {x1: cx - 8.1, x2: cx - 8.1, y1: y(targetStripHigh[i]), y2: y(targetStripMax[i]), stroke: '#333', 'stroke-width': 2.8, 'stroke-dasharray': '1 1.4', 'stroke-opacity': .7});
    
    
    const rs = make('line', g, {x1: cx + 8, x2: cx + 8, y1: y(referenceStripLow[i]), y2: y(referenceStripHigh[i]), stroke: '#000', 'stroke-width': 4.5});
    
    
    const rm = make('line', g, {x1: cx + 8, x2: cx + 8, y1: y(referenceStripHigh[i]), y2: y(referenceStripMax[i]), stroke: '#222', 'stroke-width': 2.8, 'stroke-dasharray': '1 1.4', 'stroke-opacity': .7});
    
    
    const z1 = make('line', g, {x1: cx - 10, x2: cx - 6, y1: y(0), y2: y(0), stroke: '#555', 'stroke-width': 1.6});
    
    
    const z2 = make('line', g, {x1: cx + 6, x2: cx + 10, y1: y(0), y2: y(0), stroke: '#555', 'stroke-width': 1.6});
    
    
    const tickLabel = label(g, 0, 0, name, {class: 'dj', 'font-size': 9, 'text-anchor': 'end', transform: 'translate(' + (cx + 3) + ',292) rotate(-90) scale(1,1.25)', style: 'fill:#444'});
    
    
  });
  const title = label(g, 516, 100, 'Malignant_cell vs. Hepatocyte', {class: 'dj', 'font-size': 11.5, 'text-anchor': 'middle', textLength: 247, lengthAdjust: 'spacingAndGlyphs', style: 'fill:#333'});
  
  
  const yl = label(g, 0, 0, 'expression', {class: 'dj', 'font-size': 10, 'text-anchor': 'middle', transform: 'translate(283,195) rotate(-90)', style: 'fill:#333'});
  
  
  const xl = label(g, 515, 341, 'genes', {class: 'dj', 'font-size': 10.5, 'text-anchor': 'middle', textLength: 48, lengthAdjust: 'spacingAndGlyphs', style: 'fill:#333'});
  
  
})();

/* ---------- panel B: gene lists ---------- */
(function () {
  const g = document.getElementById('gene-lists');
  const rowY = linear(0, 1, 0, 13.4);
  upGenes.forEach((name, i) => {
    const dot = make('circle', g, {cx: 1438, cy: 188.5 + rowY(i), r: 1.2, fill: '#f01818'});
    
    
    const t = label(g, 1449.5, 191.8 + rowY(i), name, {'font-size': 9.6, style: 'fill:#f01818'});
    
    
  });
  downGenes.forEach((name, i) => {
    const dot = make('circle', g, {cx: 1438, cy: 401.5 + rowY(i), r: 1.2, fill: '#1a10e0'});
    
    
    const t = label(g, 1449.5, 404.8 + rowY(i), name, {'font-size': 9.6, style: 'fill:#1a10e0'});
    
    
  });
})();

/* ---------- panel B: volcano ---------- */
(function () {
  const g = document.getElementById('volcano-plot');
  const x = linear(0, 2, 994, 1054.2);
  const y = linear(0, 300, 470, 199);
  const frame = make('rect', g, {x: 870.5, y: 178.8, width: 535.5, height: 311, fill: '#fff', stroke: '#333', 'stroke-width': 1.1});
  
  
  const topEdge = make('line', g, {x1: 870, x2: 1406, y1: 178.8, y2: 178.8, stroke: '#333', 'stroke-width': 2});
  
  
  [-1, 1].forEach(v => {
    const l = make('line', g, {x1: x(v), x2: x(v), y1: 179, y2: 490, stroke: '#999', 'stroke-width': .7, 'stroke-dasharray': '2.5 1.5'});
    
    
  });
  function dot(px, py, r, color, name) {
    const c = make('circle', g, {cx: x(px), cy: y(py), r: r, fill: color});
    
    
  }
  flatRowLevels.forEach((lvl, i) => flatRowFoldChanges[i].forEach(fc => dot(fc, lvl, 1.8, '#808080', 'point-not-significant')));
  flatDense.forEach(p => dot(p[0], p[1], 1.5, '#808080', 'point-not-significant'));
  flatPoints.forEach(p => dot(p[0], p[1], 1.15, '#808080', 'point-not-significant'));
  saturatedFlat.forEach(v => dot(v, 307, 1.2, '#808080', 'point-not-significant'));
  upPoints.forEach(p => dot(p[0], p[1], 2.1, '#ff1200', 'point-up'));
  saturatedUp.forEach(v => dot(v, 307, 2.1, '#ff1200', 'point-up'));
  downPoints.forEach(p => dot(p[0], p[1], 2.1, '#1d05f5', 'point-down'));
  saturatedDown.forEach(v => dot(v, 307, 2.1, '#1d05f5', 'point-down'));
  const pLine = make('line', g, {x1: 871, x2: 1406, y1: y(1), y2: y(1), stroke: '#aaa', 'stroke-width': .8, 'stroke-dasharray': '2.5 1.5'});
  
  
  volcanoXTicks.forEach(t => {
    const k = make('line', g, {x1: x(t), x2: x(t), y1: 490, y2: 494, stroke: '#333', 'stroke-width': .9});
    
    
    const s = label(g, x(t), 507, String(t).replace('-', '\u2212'), {'font-size': 16, 'text-anchor': 'middle', style: 'fill:#333'});
    
    
  });
  volcanoYTicks.forEach(t => {
    const k = make('line', g, {x1: 866, x2: 870.5, y1: y(t), y2: y(t), stroke: '#333', 'stroke-width': .9});
    
    
    const s = label(g, 860, y(t) + 5.5, String(t), {'font-size': 16, 'text-anchor': 'end', style: 'fill:#333'});
    
    
  });
  const xt = label(g, 1138, 527, 'log2FC', {'font-size': 16, 'text-anchor': 'middle', style: 'fill:#333'});
  
  
  const yt = label(g, 0, 0, '-lg(Adjusted P-value)', {class: 'dj', 'font-size': 13.5, 'text-anchor': 'middle', textLength: 158, lengthAdjust: 'spacingAndGlyphs', transform: 'translate(822,332) rotate(-90)', style: 'fill:#333'});
  
  
  const legendDots = [[923.5,'#1d05f5','Down regulated',935,95],[1084.5,'#808080','Not significant',1095,86],[1245,'#ff1200','Up regulated',1256,77]];
  legendDots.forEach(d => {
    const c = make('circle', g, {cx: d[0], cy: 560, r: 2.6, fill: d[1]});
    
    
    const s = label(g, d[3], 560.5, d[2], {class: 'dj', 'font-size': 11.5, textLength: d[4], lengthAdjust: 'spacingAndGlyphs', style: 'fill:#333'});
    
    
  });
})();

/* ---------- panel C: GSEA ---------- */
(function () {
  const g = document.getElementById('gsea-plot');
  const x = linear(0, 20000, 194, 582);
  const y = linear(0, .5, 587, 520);
  const yr = linear(0, 30, 587, 498);
  const colors = ['#0a78b8', '#ff7f0e', '#00a01e', '#ff1a1a', '#9d65c9'];
  const lg = make('rect', g, {x: 174, y: 382, width: 269, height: 105, rx: 2, fill: '#fff', stroke: '#ddd', 'stroke-width': 1});
  
  
  const lengths = [223, 78, 149, 122, 87];
  setNames.forEach((n, i) => {
    const ly = 394.5 + i * 19.7;
    const l = make('line', g, {x1: 178, x2: 207, y1: ly, y2: ly, stroke: colors[i], 'stroke-width': 2.2});
    
    
    const s = label(g, 215.5, ly + 5, n, {class: 'dj', 'font-size': 13, textLength: lengths[i], lengthAdjust: 'spacingAndGlyphs', style: 'fill:#222'});
    
    
  });
  const box = make('rect', g, {x: 174, y: 490, width: 453, height: 186, fill: '#fff', stroke: '#222', 'stroke-width': 1});
  
  
  const curves = [esEmt, esMyo, esKras, esXeno, esAngio];
  const curveColors = [colors[0], colors[1], colors[3], colors[2], colors[4]];
  curves.forEach((c, i) => {
    const p = make('path', g, {d: linePath(c.map(q => [x(q[0]), y(q[1])])), fill: 'none', stroke: curveColors[i], 'stroke-width': 2.3, 'stroke-linejoin': 'round'});
    
    
  });
  const fill = make('path', g, {d: linePath(rankMetric.map(q => [x(q[0]), yr(q[1])])) + 'Z', fill: '#c6d4da', 'fill-opacity': .55});
  
  
  const zero = make('line', g, {x1: 174, x2: 627, y1: y(0), y2: y(0), stroke: '#aaa', 'stroke-width': 1.3});
  
  
  esTicks.forEach((t, i) => {
    const k = make('line', g, {x1: 170, x2: 174, y1: y(t), y2: y(t), stroke: '#222', 'stroke-width': .9});
    
    
    const s = label(g, 166, y(t) + 6.5, esTickLabels[i], {'font-size': 18, 'text-anchor': 'end', style: 'fill:#222'});
    
    
  });
  metricTicks.forEach((t, i) => {
    const k = make('line', g, {x1: 627, x2: 631, y1: yr(t), y2: yr(t), stroke: '#555', 'stroke-width': .9});
    
    
    const s = label(g, 636, yr(t) + 5, metricTickLabels[i], {'font-size': 14, style: 'fill:#999'});
    
    
  });
  const hits = [hitsAngio, hitsKras, hitsXeno, hitsMyo, hitsEmt];
  const hitColors = [colors[4], colors[3], colors[2], colors[1], colors[0]];
  const rowH = 23.3;
  hits.forEach((h, i) => {
    const top = 676 + i * rowH;
    h.forEach(v => {
      const l = make('line', g, {x1: x(v), x2: x(v), y1: top, y2: top + rowH, stroke: hitColors[i], 'stroke-width': .9, 'stroke-opacity': .6});
      
      
    });
    const r = make('rect', g, {x: 174, y: top, width: 453, height: rowH, fill: 'none', stroke: '#222', 'stroke-width': .9});
    
    
  });
  gseaRankTicks.forEach((t, i) => {
    const s = label(g, x(t), 817, gseaRankLabels[i], {'font-size': 18, 'text-anchor': 'middle', style: 'fill:#111'});
    
    
  });
  const yt = label(g, 0, 0, 'Enrichment Score', {class: 'dj', 'font-size': 20, 'font-weight': 'bold', 'text-anchor': 'middle', textLength: 210, lengthAdjust: 'spacingAndGlyphs', transform: 'translate(119,583) rotate(-90)', style: 'fill:#111'});
  
  
  const yr2 = label(g, 0, 0, 'Ranked metric', {class: 'dj', 'font-size': 20, 'font-weight': 'bold', 'text-anchor': 'middle', textLength: 171, lengthAdjust: 'spacingAndGlyphs', transform: 'translate(685,583) rotate(-90)', style: 'fill:#999'});
  
  
})();

/* ---------- panel E: heatmap ---------- */
(function () {
  const g = document.getElementById('heatmap');
  const left = 138.5, top = 898.4, cw = 50.35, ch = 27;
  const stops = [[0,249,241,165],[250,248,200,140],[436,245,170,130],[650,240,135,113],[750,239,123,107],[949,234,111,102],[1100,231,97,97],[1137,229,92,92],[1300,224,74,82],[1476,219,58,70]];
  heatRows.forEach((rowName, r) => {
    heatCols.forEach((colName, c) => {
      const v = heatValues[r][c];
      const cell = make('rect', g, {x: left + c * cw, y: top + r * ch, width: cw + .3, height: ch + .3, fill: mixColor(stops, v)});
      
      
      const t = label(g, left + (c + .5) * cw, top + (r + .5) * ch + 2.6, String(v), {'font-size': 7.4, 'text-anchor': 'middle', style: 'fill:' + (v >= 1135 ? '#fff' : '#444')});
      
      
    });
    const s = label(g, 130, top + (r + .5) * ch + 4.5, rowName, {'font-size': 12.5, 'text-anchor': 'end', style: 'fill:#6e7079'});
    
    
  });
  for (let r = 0; r <= heatRows.length; r++) {
    const k = make('line', g, {x1: 133.5, x2: 138.5, y1: top + r * ch, y2: top + r * ch, stroke: '#6e7079', 'stroke-width': .9});
    
    
  }
  const axis = make('line', g, {x1: left, x2: left + 11 * cw, y1: top + 11 * ch, y2: top + 11 * ch, stroke: '#6e7079', 'stroke-width': .9});
  
  
  for (let c = 0; c <= heatCols.length; c++) {
    const k = make('line', g, {x1: left + c * cw, x2: left + c * cw, y1: top + 11 * ch, y2: top + 11 * ch + 5, stroke: '#6e7079', 'stroke-width': .9});
    
    
  }
  heatCols.forEach((colName, c) => {
    const s = label(g, 0, 0, colName, {'font-size': 12.5, 'text-anchor': 'end', transform: 'translate(' + (left + (c + .5) * cw + 4) + ',1204) rotate(-90)', style: 'fill:#6e7079'});
    
    
  });
  const defs = make('defs', g, {});
  const grad = make('linearGradient', defs, {id: 'heat-scale', x1: 0, y1: 1, x2: 0, y2: 0});
  stops.forEach(st => {
    make('stop', grad, {offset: st[0] / 1476, 'stop-color': 'rgb(' + st[1] + ',' + st[2] + ',' + st[3] + ')'});
  });
  const bar = make('rect', g, {x: 739, y: 990, width: 21, height: 146, fill: 'url(#heat-scale)'});
  
  
  const hiHandle = make('rect', g, {x: 737, y: 986, width: 25, height: 6, rx: 2.5, fill: '#d93a46', stroke: '#fff', 'stroke-width': .4});
  
  
  const loHandle = make('rect', g, {x: 737, y: 1133, width: 25, height: 6, rx: 2.5, fill: '#f9f1a5', stroke: '#fff', 'stroke-width': .4});
  
  
  const hi = label(g, 724, 993.5, '1476', {'font-size': 13, 'text-anchor': 'end', style: 'fill:#444'});
  
  
  const lo = label(g, 724, 1140.5, '0', {'font-size': 13, 'text-anchor': 'end', style: 'fill:#444'});
  
  
})();

/* ---------- panel D: subset list ---------- */
(function () {
  const g = document.getElementById('subset-list');
  subsetNames.forEach((n, i) => {
    const y = 704 + i * 13.25;
    const box = make('rect', g, {x: 863, y: y - 4, width: 7, height: 7.5, rx: 1, fill: subsetChecked[i] ? '#12a83a' : '#fff', stroke: subsetChecked[i] ? '#0d8f30' : '#888', 'stroke-width': .6});
    
    
    if (subsetChecked[i]) {
      const mark = make('path', g, {d: 'M' + (864.3) + ' ' + (y - .3) + 'l1.8 2 2.8-4.5', fill: 'none', stroke: '#063', 'stroke-width': 1});
      
      
    }
    const t = label(g, 873, y + 3, n, {'font-size': 8.2, style: 'fill:#444'});
    
    
  });
})();

/* ---------- panel D: embeddings ---------- */
(function () {
  const root = document.getElementById('umap-plots');
  const clusterColors = ['#0a78b8', '#ff7f0e', '#0a9e6a', '#e81c24', '#b93ff0', '#8f4f42'];
  const rocket = [[0,3,5,26],[.2,76,29,75],[.4,161,26,91],[.6,232,63,63],[.8,246,164,123],[1,250,235,221]];
  const clusterPoints = [cluster0Points, cluster1Points, cluster2Points, cluster3Points, cluster4Points, cluster5Points];
  function drawEmbedding(x0, xs, y0, ys, r, colorFor, coreBlue, coreOrange) {
    const g = make('g', root, {});
    
    
    const x = v => x0 + v * xs, y = v => y0 + v * ys;
    const poly = pts => pts.map(p => x(p[0]).toFixed(1) + ',' + y(p[1]).toFixed(1)).join(' ');
    const oc = make('polygon', g, {points: poly(orangeCoreOutline), fill: coreOrange});
    
    
    const bc = make('polygon', g, {points: poly(blueCoreOutline), fill: coreBlue});
    
    
    clusterPoints.forEach((pts, k) => {
      pts.forEach(p => {
        const c = make('circle', g, {cx: x(p[0]), cy: y(p[1]), r: r, fill: colorFor(k)});
        
        
      });
    });
  }
  drawEmbedding(844, 1 / 2.6, 663.2, 1 / 5.2, 1.3, k => clusterColors[k], clusterColors[0], clusterColors[1]);
  drawEmbedding(863, .34, 956.7, .1373, 1, k => clusterColors[k], clusterColors[0], clusterColors[1]);
  const dark = mixColor(rocket, .02);
  drawEmbedding(1094, .34, 956.7, .1373, 1, k => mixColor(rocket, clusterPseudotime[k]), dark, dark);

  const titles = [['clusterAnno',1121.5,706,101,'#333'],['PAGA',1364.5,706,45,'#333'],['clusterAnno',1108.5,988,79,'#333'],['dpt_pseudotime',1339.5,988,107,'#333']];
  titles.forEach(t => {
    const s = label(root, t[1], t[2], t[0], {class: 'dj', 'font-size': 15, 'text-anchor': 'middle', textLength: t[3], lengthAdjust: 'spacingAndGlyphs', style: 'fill:' + t[4]});
    
    
  });
  const legendTop = linear(0, 5, 795.9, 852.6);
  const legendBottom = linear(0, 5, 1050.3, 1093.9);
  clusterNames.forEach((n, i) => {
    const a = make('circle', root, {cx: 1223.6, cy: legendTop(i), r: 4.3, fill: clusterColors[i]});
    
    
    const b = label(root, 1229, legendTop(i) + 3, n, {'font-size': 8.3, style: 'fill:#555'});
    
    
    const c = make('circle', root, {cx: 1197.8, cy: legendBottom(i), r: 2.8, fill: clusterColors[i]});
    
    
    const d = label(root, 1201, legendBottom(i) + 2, n, {'font-size': 5.9, style: 'fill:#555'});
    
    
  });
  const defs = make('defs', root, {});
  const grad = make('linearGradient', defs, {id: 'rocket-scale', x1: 0, y1: 1, x2: 0, y2: 0});
  rocket.forEach(st => {
    make('stop', grad, {offset: st[0], 'stop-color': 'rgb(' + st[1] + ',' + st[2] + ',' + st[3] + ')'});
  });
  const cbY = linear(0, 1, 1150.5, 993.5);
  const bar = make('rect', root, {x: 1424, y: cbY(1), width: 5.5, height: cbY(0) - cbY(1), fill: 'url(#rocket-scale)', stroke: '#222', 'stroke-width': .8});
  
  
  const cbTicks = [0, .2, .4, .6, .8, 1];
  cbTicks.forEach(t => {
    const k = make('line', root, {x1: 1429.5, x2: 1433, y1: cbY(t), y2: cbY(t), stroke: '#222', 'stroke-width': .8});
    
    
    const s = label(root, 1438, cbY(t) + 4.8, t.toFixed(1), {'font-size': 13.5, style: 'fill:#333'});
    
    
  });
})();

/* ---------- panel D: PAGA ---------- */
(function () {
  const g = document.getElementById('paga-plot');
  const px = v => 844 + v / 2.6, py = v => 663.2 + v / 5.2;
  const r = v => Math.sqrt(v) * 1.2;
  const colors = ['#0a78b8', '#ff7f0e', '#0a9e6a', '#e81c24', '#b93ff0', '#8f4f42'];
  pagaEdgeFrom.forEach((a, i) => {
    const b = pagaEdgeTo[i];
    const e = make('line', g, {x1: px(pagaPos1[a]), y1: py(pagaPos2[a]), x2: px(pagaPos1[b]), y2: py(pagaPos2[b]), stroke: '#000', 'stroke-width': pagaEdgeWeight[i]});
    
    
  });
  pagaNames.forEach((n, i) => {
    const c = make('circle', g, {cx: px(pagaPos1[i]), cy: py(pagaPos2[i]), r: r(pagaSize[i]), fill: colors[i]});
    
    
  });
  pagaNames.forEach((n, i) => {
    const t = label(g, px(pagaPos1[i]), py(pagaPos2[i]) + 2.8, n, {'font-size': 8, 'text-anchor': 'middle', style: 'fill:#555'});
    
    
  });
})();
</script>
</body>
</html>
